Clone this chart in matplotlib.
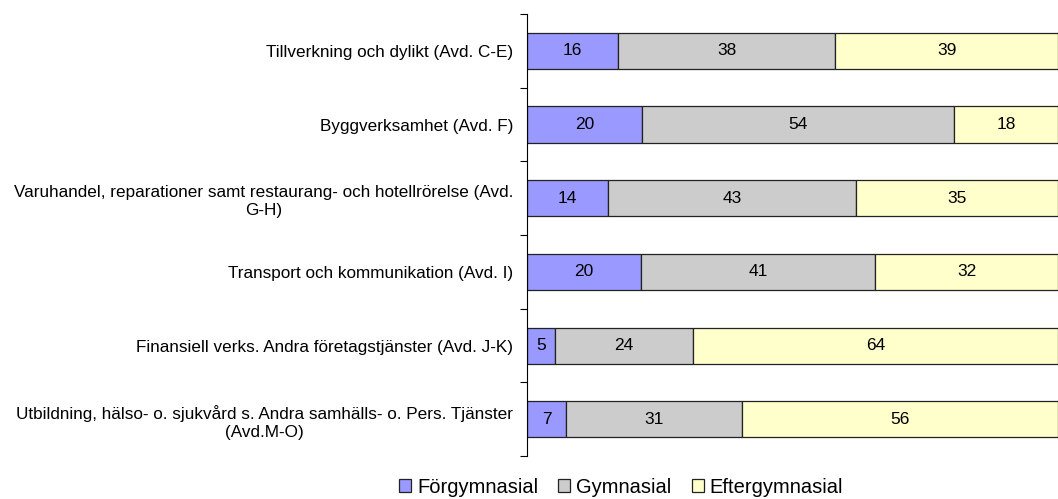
import matplotlib
matplotlib.use('Agg')
import matplotlib.pyplot as plt
import numpy as np

plt.rcParams['font.family'] = ['Liberation Sans', 'DejaVu Sans']

categories = [
    "Tillverkning och dylikt (Avd. C-E)",
    "Byggverksamhet (Avd. F)",
    "Varuhandel, reparationer samt restaurang- och hotellrörelse (Avd.\nG-H)",
    "Transport och kommunikation (Avd. I)",
    "Finansiell verks. Andra företagstjänster (Avd. J-K)",
    "Utbildning, hälso- o. sjukvård s. Andra samhälls- o. Pers. Tjänster\n(Avd.M-O)",
]
forgymnasial = [16, 20, 14, 20, 5, 7]
gymnasial = [38, 54, 43, 41, 24, 31]
eftergymnasial = [39, 18, 35, 32, 64, 56]

series = [("Förgymnasial", forgymnasial, "#9999FF"),
          ("Gymnasial", gymnasial, "#CCCCCC"),
          ("Eftergymnasial", eftergymnasial, "#FFFFCC")]

vals = np.array([s[1] for s in series], dtype=float)
totals = vals.sum(axis=0)
frac = vals / totals

fig = plt.figure(figsize=(10.58, 4.99), dpi=100)
ax = fig.add_axes([0.498, 0.086, 0.502, 0.886])

y = np.arange(len(categories))
left = np.zeros(len(categories))
for i, (name, v, col) in enumerate(series):
    ax.barh(y, frac[i], left=left, height=0.49, color=col,
            edgecolor='#222222', linewidth=0.9, label=name)
    for j in range(len(categories)):
        ax.text(left[j] + frac[i][j] / 2, y[j], str(v[j]), ha='center',
                va='center', fontsize=12.5, color='black')
    left += frac[i]

ax.set_xlim(0, 1)
ax.set_ylim(len(categories) - 0.5, -0.5)
ax.set_yticks(y)
ax.set_yticklabels(categories, fontsize=12.3, multialignment='center',
                   linespacing=1.3)
ax.set_yticks(np.arange(len(categories) + 1) - 0.5, minor=True)
ax.tick_params(axis='y', which='major', length=0, pad=10)
ax.tick_params(axis='y', which='minor', length=5, width=0.8, direction='out')
ax.set_xticks([])
for s in ['top', 'right', 'bottom']:
    ax.spines[s].set_visible(False)
ax.spines['left'].set_linewidth(0.8)

handles, labels = ax.get_legend_handles_labels()
fig.legend(handles, labels, loc='center', bbox_to_anchor=(0.587, 0.024),
           ncol=3, frameon=False, fontsize=14.5, handlelength=0.6,
           handleheight=0.6, handletextpad=0.3, columnspacing=1.0,
           borderpad=0.0)

fig.savefig('out.png', dpi=100)
